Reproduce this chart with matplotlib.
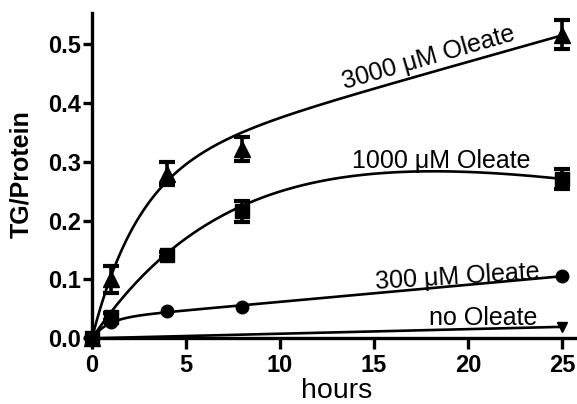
import numpy as np
import matplotlib.pyplot as plt

plt.rcParams['font.family'] = ['Liberation Sans', 'DejaVu Sans']

hours = [0, 1, 4, 8, 25]
tg_3000 = [0.0, 0.100, 0.280, 0.322, 0.516]
err_3000 = [0.0, 0.023, 0.020, 0.021, 0.025]
tg_1000 = [0.0, 0.037, 0.142, 0.216, 0.271]
err_1000 = [0.0, 0.006, 0.004, 0.018, 0.017]
tg_300 = [0.0, 0.027, 0.047, 0.054, 0.106]
hours_none = [0, 25]
tg_none = [0.0, 0.020]

# fitted curves, y = a*(1 - exp(-k*x)) + c*x
fit_3000 = (0.29, 0.40, 0.009)
fit_1000 = (0.443, 0.12, -0.006)
fit_300 = (0.033, 1.2, 0.0029)
fit_none = (0.0, 1.0, 0.00078)

labels = ['3000 \u03bcM Oleate', '1000 \u03bcM Oleate', '300 \u03bcM Oleate', 'no Oleate']


def curve(p, x):
    a, k, c = p
    return a * (1 - np.exp(-k * x)) + c * x


fig = plt.figure(figsize=(5.77, 4.04), dpi=100)
ax = fig.add_axes([0.1594, 0.1626, 0.8406, 0.8052])

xs = np.linspace(0, 25, 300)
for p in [fit_3000, fit_1000, fit_300, fit_none]:
    ax.plot(xs, curve(p, xs), color='black', lw=1.9, clip_on=False)

ebar = dict(fmt='none', ecolor='black', elinewidth=2.6, capsize=6,
            capthick=3, clip_on=False)
ax.errorbar(hours, tg_3000, yerr=err_3000, **ebar)
ax.errorbar(hours, tg_1000, yerr=err_1000, **ebar)

ax.plot(hours, tg_3000, '^', color='black', ms=11.5, clip_on=False)
ax.plot(hours, tg_1000, 's', color='black', ms=9.5, clip_on=False)
ax.plot(hours, tg_300, 'o', color='black', ms=9, clip_on=False)
ax.plot(hours_none, tg_none, 'v', color='black', ms=7.5, clip_on=False)

ax.text(17.9, 0.476, labels[0], fontsize=18, rotation=16,
        rotation_mode='anchor', ha='center', va='center')
ax.text(18.6, 0.289, labels[1], fontsize=18, ha='center', va='baseline')
ax.text(19.45, 0.092, labels[2], fontsize=18, rotation=3.5,
        rotation_mode='anchor', ha='center', va='baseline')
ax.text(20.8, 0.0226, labels[3], fontsize=18, ha='center', va='baseline')

ax.set_xlim(0, 25.8)
ax.set_ylim(0, 0.553)
ax.set_xticks([0, 5, 10, 15, 20, 25])
ax.set_yticks([0.0, 0.1, 0.2, 0.3, 0.4, 0.5])
ax.set_yticklabels(['0.0', '0.1', '0.2', '0.3', '0.4', '0.5'])

ax.spines['top'].set_visible(False)
ax.spines['right'].set_visible(False)
ax.spines['left'].set_linewidth(2.4)
ax.spines['bottom'].set_linewidth(2.4)

ax.tick_params(axis='x', length=8, width=2.4, pad=3.5, labelsize=17)
ax.tick_params(axis='y', length=6.5, width=2.4, pad=1.5, labelsize=17)
for lab in ax.get_xticklabels() + ax.get_yticklabels():
    lab.set_fontweight('bold')

ax.set_xlabel('hours', fontsize=20.5, va='baseline')
ax.xaxis.set_label_coords(0.505, -0.1826)
ax.set_ylabel('TG/Protein', fontsize=18, fontweight='bold')
ax.yaxis.set_label_coords(-0.122, 0.505)

fig.savefig('out.png', dpi=100)
